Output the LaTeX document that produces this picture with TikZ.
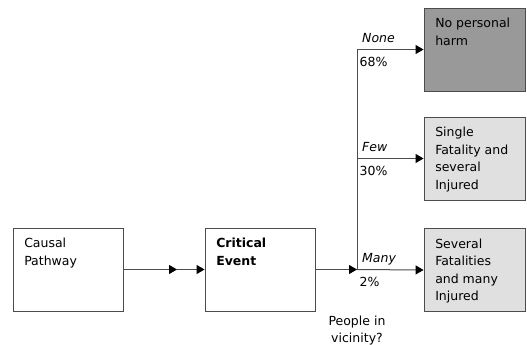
\documentclass[tikz,border=0pt]{standalone}
\usepackage{fontspec}
\setmainfont{DejaVu Sans}
\usepackage{tikz}
\usetikzlibrary{arrows.meta,positioning}
\definecolor{harmdark}{gray}{0.6}
\definecolor{harmlight}{gray}{0.88}
\definecolor{linegray}{gray}{0.3}

\begin{document}
\begin{tikzpicture}[x=1pt,y=-1pt,
    every node/.style={font=\fontsize{12.5}{17.5}\selectfont},
    eventbox/.style={draw=linegray, line width=0.9pt, minimum width=110pt, minimum height=83pt, inner sep=0pt},
    outcomebox/.style={eventbox, minimum width=101pt},
    boxtext/.style={anchor=north west, inner sep=0pt, align=left, xshift=11.5pt, yshift=-10.5pt},
    flow/.style={draw=linegray, line width=1pt, -{Triangle[length=8pt,width=9pt,color=black]}},
    branchlbl/.style={anchor=base west, inner sep=0pt, xshift=5pt, yshift=7.5pt, font=\fontsize{12.5}{17.5}\selectfont\itshape},
    pctlbl/.style={anchor=north west, inner sep=0pt, xshift=2.5pt, yshift=-7.5pt}]
  \useasboundingbox (0,0) rectangle (527,345);
  % boxes
  \node[eventbox] (cp) at (68,269.5) {};
  \node[eventbox] (ce) at (260,269.5) {};
  \node[outcomebox, fill=harmdark] (none) at (474.5,49.5) {};
  \node[outcomebox, fill=harmlight] (few) at (474.5,158.5) {};
  \node[outcomebox, fill=harmlight] (many) at (474.5,270) {};
  \node[boxtext] (cp-text) at (cp.north west) {Causal\\Pathway};
  \node[boxtext, font=\fontsize{12.5}{17.5}\selectfont\bfseries] (ce-text) at (ce.north west) {Critical\\Event};
  \node[boxtext] (none-text) at (none.north west) {No personal\\harm};
  \node[boxtext] (few-text) at (few.north west) {Single\\Fatality and\\several\\Injured};
  \node[boxtext] (many-text) at (many.north west) {Several\\Fatalities\\and many\\Injured};
  % branch points
  \coordinate (mid) at (177,269.5);
  \coordinate (br) at (357,269.5);
  \coordinate (br-none) at (br |- none.west);
  \coordinate (br-few) at (br |- few.west);
  \coordinate (br-many) at (br |- many.west);
  % connectors
  \draw[flow] (cp.east) -- (mid);
  \draw[flow] (mid) -- (ce.west);
  \draw[flow] (ce.east) -- (br);
  \draw[flow] (br) -- (many.west);
  \draw[flow] (br) -- (br-none) -- (none.west);
  \draw[flow] (br-few) -- (few.west);
  % labels
  \node[branchlbl] (none-lbl) at (br-none) {None};
  \node[pctlbl] (none-pct) at (br-none) {68\%};
  \node[branchlbl] (few-lbl) at (br-few) {Few};
  \node[pctlbl] (few-pct) at (br-few) {30\%};
  \node[branchlbl] (many-lbl) at (br-many) {Many};
  \node[pctlbl] (many-pct) at (br-many) {2\%};
  \node[anchor=north, inner sep=0pt, align=center, yshift=-46pt] (question) at (br) {People in\\vicinity?};
\end{tikzpicture}
\end{document}
